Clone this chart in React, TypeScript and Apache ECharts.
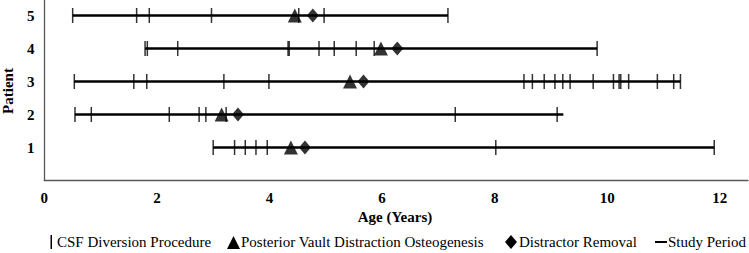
import React, { useEffect, useRef } from "react";
import * as echarts from "echarts";

const patients = [1, 2, 3, 4, 5];
const xTicks = [0, 2, 4, 6, 8, 10, 12];

const studyStart = [3.0, 0.545, 0.533, 1.79, 0.504];
const studyEnd = [11.9, 9.22, 11.3, 9.82, 7.17];

const vaultDistraction = [4.38, 3.15, 5.43, 5.98, 4.45];
const distractorRemoval = [4.63, 3.44, 5.67, 6.27, 4.77];

const csfP1 = [3.0, 3.38, 3.57, 3.76, 3.96, 8.02, 11.9];
const csfP2 = [0.545, 0.835, 2.22, 2.75, 2.87, 3.23, 7.3, 9.11];
const csfP3 = [0.533, 1.59, 1.82, 3.19, 3.99, 8.52, 8.67, 8.88, 9.07, 9.21, 9.34, 9.75, 10.11, 10.21, 10.24, 10.38, 10.89, 11.18, 11.3];
const csfP4 = [1.79, 1.83, 2.37, 4.33, 4.35, 4.88, 5.15, 5.54, 5.86, 9.82];
const csfP5 = [0.504, 1.64, 1.865, 2.97, 4.52, 4.97, 7.17];
const csfByPatient = [csfP1, csfP2, csfP3, csfP4, csfP5];

const NAME_CSF = "CSF Diversion Procedure";
const NAME_PVDO = "Posterior Vault Distraction Osteogenesis";
const NAME_DR = "Distractor Removal";
const NAME_SP = "Study Period";
const X_NAME = "Age (Years)";
const Y_NAME = "Patient";

const FONT = "Liberation Serif";

export default function App() {
  const ref = useRef<HTMLDivElement>(null);

  useEffect(() => {
    if (!ref.current) return;
    const chart = echarts.init(ref.current, undefined, { renderer: "svg" });

    const csfData: number[][] = [];
    csfByPatient.forEach((ages, i) => {
      ages.forEach((a) => csfData.push([a, patients[i]]));
    });
    const spData = patients.map((p, i) => [studyStart[i], studyEnd[i], p]);
    const pvdoData = patients.map((p, i) => [vaultDistraction[i], p]);
    const drData = patients.map((p, i) => [distractorRemoval[i], p]);

    chart.setOption({
      animation: false,
      grid: { left: 44.3, right: 1, top: 0, bottom: 72.5, containLabel: false, outerBoundsMode: "none" },
      xAxis: {
        type: "value",
        min: 0,
        max: 12.5,
        interval: 2,
        axisLine: { show: true, lineStyle: { color: "#595959", width: 1.3 } },
        axisTick: { show: false },
        splitLine: { show: false },
        axisLabel: { show: false },
      },
      yAxis: {
        type: "value",
        min: 0,
        max: 5.47,
        interval: 1,
        axisLine: { show: true, lineStyle: { color: "#595959", width: 1.3 } },
        axisTick: { show: false },
        splitLine: { show: false },
        axisLabel: { show: false },
      },
      series: [
        {
          name: NAME_SP,
          type: "custom",
          z: 1,
          itemStyle: { color: "#000" },
          encode: { x: [0, 1], y: 2 },
          data: spData,
          renderItem: (params: any, api: any) => {
            const s = api.coord([api.value(0), api.value(2)]);
            const e = api.coord([api.value(1), api.value(2)]);
            return {
              type: "line",
              shape: { x1: s[0], y1: s[1], x2: e[0], y2: e[1] },
              style: { stroke: "#000", lineWidth: 2.5 },
            };
          },
        },
        {
          name: NAME_CSF,
          type: "scatter",
          z: 2,
          symbol: "rect",
          symbolSize: [1.5, 15],
          itemStyle: { color: "#000" },
          data: csfData,
        },
        {
          name: NAME_PVDO,
          type: "scatter",
          z: 3,
          symbol: "triangle",
          symbolSize: [14, 14],
          itemStyle: { color: "#000" },
          data: pvdoData,
        },
        {
          name: NAME_DR,
          type: "scatter",
          z: 4,
          symbol: "diamond",
          symbolSize: [12, 14],
          itemStyle: { color: "#000" },
          data: drData,
        },
      ],
    });

    const boldText = (text: string, x: number, y: number, align: string, extra: any = {}) => ({
      type: "text",
      x,
      y,
      silent: true,
      ...extra,
      style: {
        text,
        x: 0,
        y: 0,
        align,
        verticalAlign: "middle",
        fontFamily: FONT,
        fontSize: 15,
        fontWeight: "bold",
        fill: "#000",
      },
    });
    const plainText = (text: string, x: number, y: number) => ({
      type: "text",
      x,
      y,
      silent: true,
      style: {
        text,
        x: 0,
        y: 0,
        align: "left",
        verticalAlign: "middle",
        fontFamily: FONT,
        fontSize: 15,
        fill: "#000",
      },
    });

    const graphics: any[] = [];
    xTicks.forEach((v) => {
      const px = chart.convertToPixel({ xAxisIndex: 0 }, v) as number;
      graphics.push(boldText(String(v), px, 198, "center"));
    });
    patients.forEach((p) => {
      const py = chart.convertToPixel({ yAxisIndex: 0 }, p) as number;
      graphics.push(boldText(String(p), 34.5, py + 0.5, "right"));
    });
    graphics.push(boldText(X_NAME, 395, 217, "center"));
    graphics.push(boldText(Y_NAME, 8, 91, "center", { rotation: Math.PI / 2 }));

    // legend
    const ly = 242;
    graphics.push({ type: "rect", silent: true, shape: { x: 50.5, y: ly - 7, width: 1.5, height: 14 }, style: { fill: "#000" } });
    graphics.push(plainText(NAME_CSF, 57, ly));
    graphics.push({
      type: "polygon",
      silent: true,
      shape: { points: [[227, ly + 7], [240, ly + 7], [233.5, ly - 6]] },
      style: { fill: "#000" },
    });
    graphics.push(plainText(NAME_PVDO, 241, ly));
    graphics.push({
      type: "polygon",
      silent: true,
      shape: { points: [[511, ly - 7], [517, ly], [511, ly + 7], [505, ly]] },
      style: { fill: "#000" },
    });
    graphics.push(plainText(NAME_DR, 519, ly));
    graphics.push({ type: "rect", silent: true, shape: { x: 655, y: ly - 1, width: 12, height: 2 }, style: { fill: "#000" } });
    graphics.push(plainText(NAME_SP, 668, ly));

    chart.setOption({ graphic: graphics });

    return () => chart.dispose();
  }, []);

  return (
    <div
      ref={ref}
      style={{ position: "fixed", left: 0, top: 0, width: 749, height: 253, background: "#fff" }}
    />
  );
}
